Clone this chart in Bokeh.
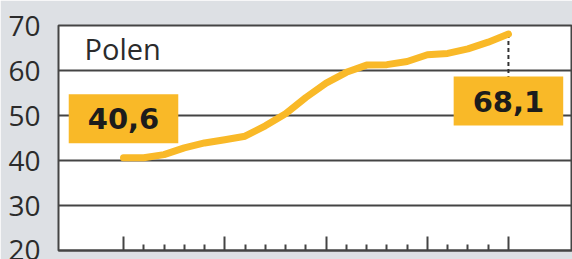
from bokeh.plotting import figure
from bokeh.models import FixedTicker, Label, Range1d
from bokeh.embed import file_html
from bokeh.resources import INLINE

# ---- data ----
years = list(range(2000, 2020))
values = [40.6, 40.6, 41.3, 42.8, 43.9, 44.6, 45.4, 47.7, 50.4, 54.0,
          57.2, 59.6, 61.2, 61.3, 62.0, 63.5, 63.8, 64.8, 66.3, 68.1]
y_ticks = [20, 30, 40, 50, 60, 70]
major_x_ticks = [2000, 2005, 2010, 2015, 2019]
country = "Polen"
first_label = "40,6"
last_label = "68,1"

# ---- style ----
BG = "#dde0e4"
GRID = "#444444"
YELLOW = "#f9b928"
TEXT = "#2b2b2b"

W, H = 572, 259
LEFT, TOP, BOTTOM, RIGHT = 58, 25, 9, 0
frame_w = W - LEFT - RIGHT
frame_h = H - TOP - BOTTOM
px_per_year = 20.26
x_start = years[0] - 65 / px_per_year
x_end = x_start + frame_w / px_per_year
px_per_unit = frame_h / (y_ticks[-1] - y_ticks[0])

p = figure(width=W, height=H, output_backend="svg", toolbar_location=None,
           x_range=Range1d(x_start, x_end),
           y_range=Range1d(y_ticks[0], y_ticks[-1]),
           min_border_left=LEFT, min_border_right=RIGHT,
           min_border_top=TOP, min_border_bottom=BOTTOM)
p.border_fill_color = BG
p.background_fill_color = "white"
p.outline_line_color = GRID
p.outline_line_width = 2

# y axis
p.yaxis.ticker = FixedTicker(ticks=y_ticks)
p.yaxis.axis_line_color = None
p.yaxis.major_tick_line_color = None
p.yaxis.minor_tick_line_color = None
p.yaxis.major_tick_out = 0
p.yaxis.major_tick_in = 0
p.yaxis.major_label_standoff = 18
p.yaxis.major_label_text_font = "Open Sans"
p.yaxis.major_label_text_font_size = "28px"
p.yaxis.major_label_text_color = TEXT

p.ygrid.ticker = FixedTicker(ticks=y_ticks)
p.ygrid.grid_line_color = GRID
p.ygrid.grid_line_width = 2
p.xgrid.grid_line_color = None

# x axis: ticks only
minor = [y for y in years if y not in major_x_ticks]
p.xaxis.ticker = FixedTicker(ticks=major_x_ticks, minor_ticks=minor)
p.xaxis.axis_line_color = GRID
p.xaxis.axis_line_width = 2
p.xaxis.major_tick_in = 14
p.xaxis.major_tick_out = 0
p.xaxis.minor_tick_in = 6
p.xaxis.minor_tick_out = 0
p.xaxis.major_tick_line_color = GRID
p.xaxis.major_tick_line_width = 2
p.xaxis.minor_tick_line_color = GRID
p.xaxis.minor_tick_line_width = 2
p.xaxis.major_label_text_font_size = "0px"
p.xaxis.major_label_standoff = 0

# dashed guide from last point down to its label
last_off = 67
p.segment(x0=[years[-1]], y0=[values[-1]], x1=[years[-1]],
          y1=[values[-1] - (last_off - 20) / px_per_unit],
          line_color="#333333", line_width=2, line_dash="4 3")

p.line(years, values, line_color=YELLOW, line_width=7,
       line_cap="round", line_join="round")

lab_kw = dict(text_align="center", text_baseline="middle",
              text_font="DejaVu Sans", text_font_style="bold",
              text_font_size="29px", text_color="#1c1c1c",
              background_fill_color=YELLOW, padding=(19, 14))
p.add_layout(Label(x=years[0], y=values[0], y_offset=39, text=first_label, **lab_kw))
p.add_layout(Label(x=years[-1], y=values[-1], y_offset=-last_off, text=last_label, **lab_kw))

# panel title, placed from the frame's top-left corner
p.add_layout(Label(x=x_start + 26 / px_per_year, y=y_ticks[-1] - 23 / px_per_unit,
                   text=country, text_font="Open Sans", text_font_size="29px",
                   text_color=TEXT, text_baseline="alphabetic"))

open("out.html", "w").write(file_html(p, INLINE))
